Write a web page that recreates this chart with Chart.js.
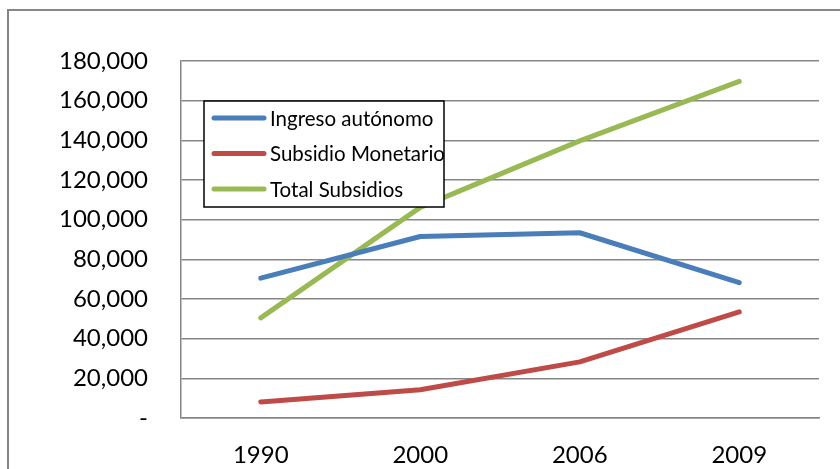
<!DOCTYPE html>
<html>
<head>
<meta charset="utf-8">
<script src="https://cdn.jsdelivr.net/npm/chart.js@4.4.0/dist/chart.umd.min.js"></script>
<style>
  html, body { margin: 0; padding: 0; background: #fff; }
  #wrap { width: 840px; height: 469px; position: relative; }
</style>
</head>
<body>
<div id="wrap"><canvas id="chart" width="840" height="469"></canvas></div>
<script>
var years = ['1990', '2000', '2006', '2009'];
var ingresoAutonomo = [70500, 91500, 93400, 68200];
var subsidioMonetario = [8100, 14200, 28300, 53500];
var totalSubsidios = [50500, 106200, 139700, 169700];
var seriesNames = ['Ingreso autónomo', 'Subsidio Monetario', 'Total Subsidios'];
var seriesColors = ['#4a7ebb', '#be4b48', '#98b954'];

var fontFamily = 'Lato, "Open Sans", sans-serif';

// marco exterior del grafico
var outerFrame = {
    id: 'outerFrame',
    beforeDraw: function(chart) {
        var ctx = chart.ctx;
        ctx.save();
        ctx.fillStyle = '#fff';
        ctx.fillRect(0, 0, chart.width, chart.height);
        ctx.strokeStyle = '#868686';
        ctx.lineWidth = 2;
        ctx.strokeRect(8, 10, 900, 600);
        ctx.restore();
    }
};

// leyenda dentro del area del grafico
var boxLegend = {
    id: 'boxLegend',
    afterDraw: function(chart) {
        var ctx = chart.ctx;
        var x = 204, y = 101, w = 240, h = 106;
        ctx.save();
        ctx.fillStyle = '#fff';
        ctx.fillRect(x, y, w, h);
        ctx.strokeStyle = '#000';
        ctx.lineWidth = 1.5;
        ctx.strokeRect(x, y, w, h);
        ctx.font = '20.5px ' + fontFamily;
        ctx.textBaseline = 'middle';
        chart.data.datasets.forEach(function(ds, i) {
            var ly = 118 + i * 35.5;
            ctx.strokeStyle = ds.borderColor;
            ctx.lineWidth = 5;
            ctx.lineCap = 'round';
            ctx.beginPath();
            ctx.moveTo(214, ly);
            ctx.lineTo(264, ly);
            ctx.stroke();
            ctx.fillStyle = '#000';
            ctx.fillText(ds.label, 270, ly + 1);
        });
        ctx.restore();
    }
};

var datasets = [ingresoAutonomo, subsidioMonetario, totalSubsidios].map(function(vals, i) {
    return {
        label: seriesNames[i],
        data: vals,
        borderColor: seriesColors[i],
        backgroundColor: seriesColors[i],
        borderWidth: 5,
        borderCapStyle: 'round',
        borderJoinStyle: 'round',
        pointRadius: 0,
        tension: 0,
        fill: false
    };
});

new Chart(document.getElementById('chart'), {
    type: 'line',
    data: { labels: years, datasets: datasets },
    plugins: [outerFrame, boxLegend],
    options: {
        responsive: false,
        animation: false,
        layout: { padding: { top: 61, right: 21, left: 0, bottom: 0 } },
        plugins: { legend: { display: false }, tooltip: { enabled: false } },
        scales: {
            x: {
                offset: true,
                grid: { display: false },
                border: { display: true, color: '#868686', width: 1.5 },
                ticks: { color: '#000', padding: 15, font: { family: fontFamily, size: 24 } },
                afterFit: function(scale) { scale.height = 51; }
            },
            y: {
                min: 0,
                max: 180000,
                ticks: {
                    stepSize: 20000,
                    color: '#000',
                    padding: 33,
                    font: { family: fontFamily, size: 24 },
                    callback: function(v) { return v === 0 ? '-' : v.toLocaleString('en-US'); }
                },
                grid: { color: '#868686', lineWidth: 1.5, drawTicks: false },
                border: { display: true, color: '#868686', width: 1.5 },
                afterFit: function(scale) { scale.width = 181; }
            }
        }
    }
});
</script>
</body>
</html>
